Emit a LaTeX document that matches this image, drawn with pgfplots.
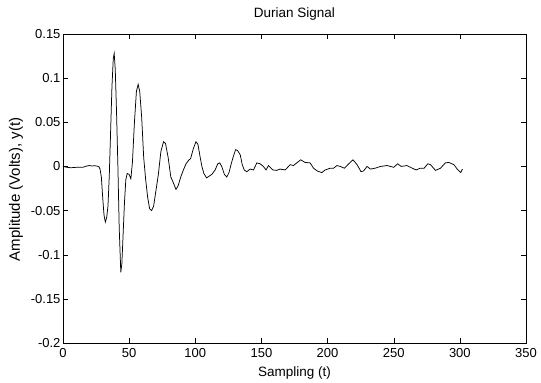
\documentclass[border=0pt]{standalone}
\usepackage{pgfplots}
\pgfplotsset{compat=1.18}
\usepackage{fontspec}
\setmainfont{Liberation Sans}
\begin{document}
\begin{tikzpicture}
\begin{axis}[
  name=ax,
  at={(0,0)}, anchor=south west,
  scale only axis, width=463bp, height=309bp,
  xmin=0, xmax=350, ymin=-0.2, ymax=0.15,
  xtick={0,50,100,150,200,250,300,350},
  xticklabels={0,50,100,150,200,250,300,350},
  ytick={-0.2,-0.15,-0.1,-0.05,0,0.05,0.1,0.15},
  yticklabels={-0.2,-0.15,-0.1,-0.05,0,0.05,0.1,0.15},
  tick label style={font=\fontsize{13bp}{15bp}\selectfont},
  xticklabel style={yshift=-2bp},
  yticklabel style={xshift=1bp},
  xlabel={Sampling (t)},
  xlabel style={font=\fontsize{13.5bp}{16bp}\selectfont, at={(axis description cs:0.5,-0.097)}, anchor=center},
  ylabel={Amplitude (Volts), y(t)},
  ylabel style={font=\fontsize{15bp}{18bp}\selectfont, at={(axis description cs:-0.1015,0.497)}, anchor=center},
  major tick length=5bp,
  tick style={black, line width=0.4pt},
  axis line style={line width=0.6pt},
]
\addplot[black, line width=0.75pt] coordinates {
(0,0) (3,-0.001) (6,-0.0015) (10,-0.001) (15,-0.001) (18,0.0005) (20,0.001) (22,0.0005) (24,0.0008) (27,0) (28,-0.003)
(29,-0.012) (30,-0.035) (31,-0.055) (32,-0.063) (33,-0.058) (34,-0.045) (35,-0.01) (36,0.04) (37,0.09) (38,0.122)
(38.7,0.128) (39.5,0.11) (40.5,0.06) (41.5,0.0) (42.5,-0.07) (43.7,-0.12) (44.5,-0.11) (45.5,-0.075) (46.5,-0.04)
(47.5,-0.015) (48.5,-0.008) (50,-0.009) (51.3,-0.014) (52.5,0.005) (54,0.05) (55.5,0.085) (56.8,0.093) (58,0.085)
(59.5,0.055) (61,0.01) (62.5,-0.015) (64,-0.035) (65.5,-0.048) (67,-0.05) (68.5,-0.045) (70,-0.03) (72,-0.01)
(74,0.017) (76,0.028) (77.5,0.026) (79.5,0.01) (81.5,-0.012) (83,-0.017) (85.4,-0.026) (87,-0.022) (89,-0.012)
(91,-0.004) (93,0.003) (95,0.007) (96.5,0.009) (98.5,0.02) (100.5,0.028) (102,0.025) (103.5,0.012) (105,0.0)
(106.5,-0.008) (108.5,-0.013) (110.5,-0.011) (112.5,-0.009) (115,-0.004) (117,0.003) (118.5,0.004) (120,0)
(122,-0.009) (123.8,-0.012) (125.5,-0.007) (127,0.002) (128.5,0.01) (130.5,0.019) (132,0.018) (134,0.013)
(135.5,0.002) (137,-0.004) (139,-0.006) (141.4,-0.003) (144,-0.004) (146.5,0.004) (149,0.003) (151.5,0)
(153.5,-0.004) (155.3,0.001) (158.6,-0.004) (161.6,-0.0045) (164,-0.003) (168,-0.004) (171.7,0.002) (174.2,0.001)
(176.7,0.004) (179.7,0.0075) (183,0.0045) (186.8,0.004) (189.4,-0.002) (192,-0.005) (195.7,-0.007) (198.2,-0.004)
(202,-0.002) (204.6,-0.002) (207,0.001) (209.6,0) (212.7,-0.002) (216,0.003) (219.2,0.0075) (222.3,0.002)
(225.3,-0.006) (227.3,-0.005) (229.8,0) (232.4,-0.003) (236,-0.002) (240,0) (245,0.001) (250,-0.001) (253,0.003)
(255.6,0) (260,0.001) (264,-0.002) (267,-0.004) (270,-0.002) (273,-0.002) (275.8,0.003) (277.8,0.002)
(281.6,-0.0045) (285.4,-0.002) (289,0.004) (291.7,0.0045) (295.5,0.002) (298,-0.003) (300.6,-0.007) (302,-0.003)
};
\end{axis}
\node[font=\fontsize{13.5bp}{16bp}\selectfont, anchor=center] at ([yshift=20bp]ax.north) {Durian Signal};
\pgfresetboundingbox
\path (-63bp,-40bp) rectangle (478bp,343bp);
\end{tikzpicture}
\end{document}
